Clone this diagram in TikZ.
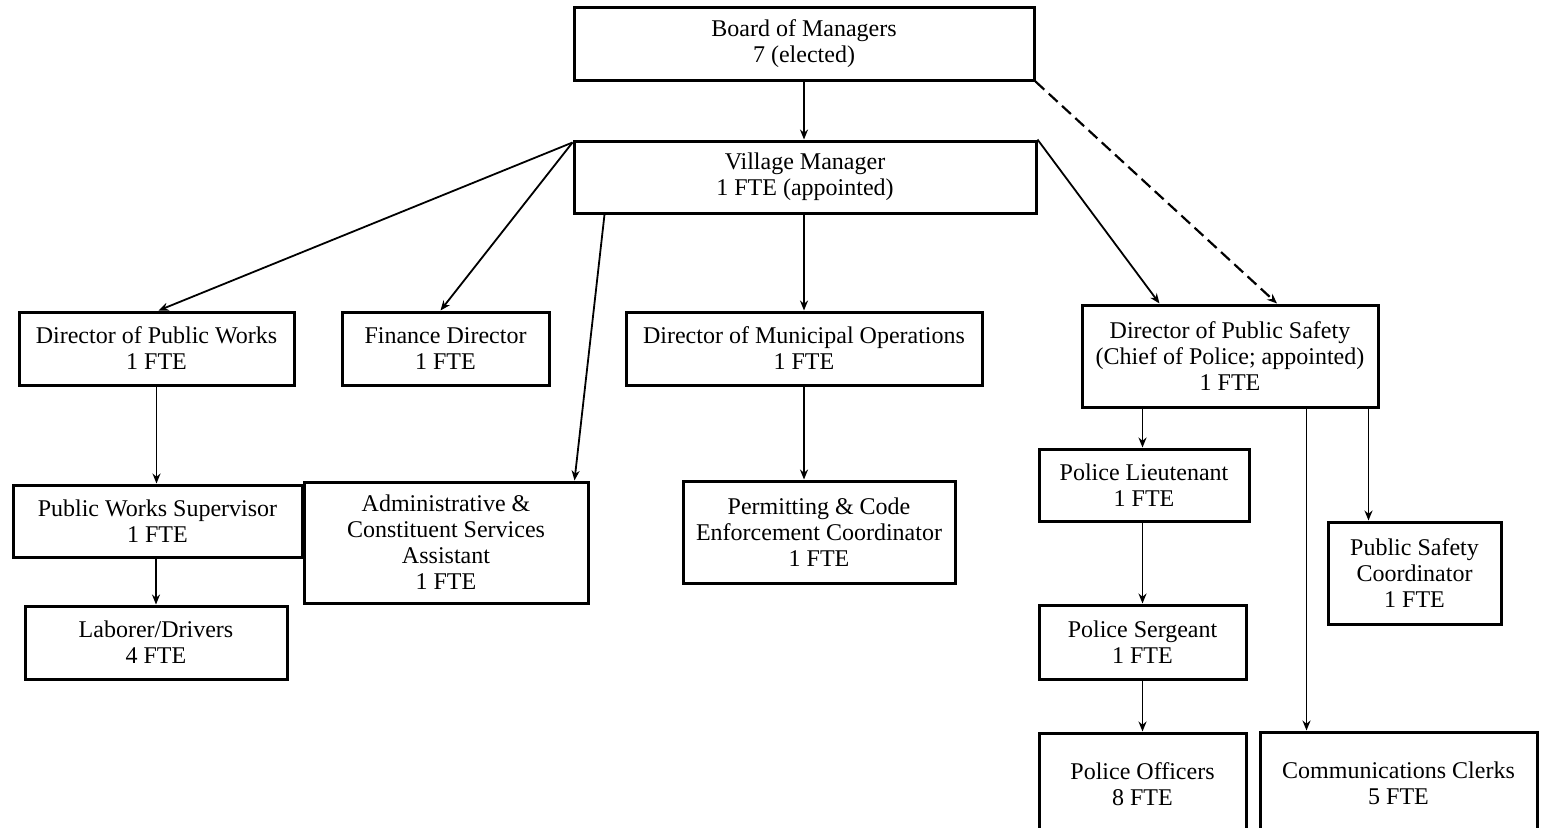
\documentclass[tikz,border=0pt]{standalone}
\usepackage{fontspec}
\setmainfont{Liberation Serif}
\usetikzlibrary{arrows.meta,shadows,calc}
\begin{document}
\begin{tikzpicture}[x=0.5pt,y=-0.5pt,
  box/.style={draw, line width=1.5pt, fill=white, align=center, inner sep=0pt,
    font=\fontsize{12}{13}\selectfont,
    drop shadow={shadow xshift=1.1pt, shadow yshift=-1.1pt, fill=black, opacity=1}},
  sz/.style 2 args={minimum width=#1*0.5pt, minimum height=#2*0.5pt},
  conn/.style={draw, line width=0.9pt, -{Stealth[length=5pt,width=4pt]}},
  dconn/.style={conn, dashed, dash pattern=on 6pt off 3pt, line width=1.1pt}]
\useasboundingbox (0,0) rectangle (1547,827);
\fill[white] (0,0) rectangle (1547,827);
\node[box, sz={460}{73}] (bom) at (804,43.5) {Board of Managers\\7 (elected)};
\node[box, sz={462}{72}] (vm) at (805,177) {Village Manager\\1 FTE (appointed)};
\node[box, sz={275}{73}] (dpw) at (156.5,348.5) {Director of Public Works\\1 FTE};
\node[box, sz={207}{73}] (fin) at (445.5,348.5) {Finance Director\\1 FTE};
\node[box, sz={356}{73}] (dmo) at (804,348.5) {Director of Municipal Operations\\1 FTE};
\node[box, sz={296}{102}] (dps) at (1230,356) {Director of Public Safety\\(Chief of Police; appointed)\\1 FTE};
\node[box, sz={289}{72}] (pws) at (157.5,521) {Public Works Supervisor\\1 FTE};
\node[box, sz={284}{121}] (adm) at (446,542.5) {Administrative \&\\Constituent Services\\Assistant\\1 FTE};
\node[box, sz={272}{102}] (pce) at (819,532) {Permitting \& Code\\Enforcement Coordinator\\1 FTE};
\node[box, sz={210}{72}] (lt) at (1144,485) {Police Lieutenant\\1 FTE};
\node[box, sz={173}{102}] (psc) at (1414.5,573) {Public Safety\\Coordinator\\1 FTE};
\node[box, sz={262}{73}] (lab) at (156,642.5) {Laborer/Drivers\\4 FTE};
\node[box, sz={207}{74}] (sgt) at (1142.5,642) {Police Sergeant\\1 FTE};
\node[box, sz={207}{102}] (off) at (1142.5,784) {Police Officers\\8 FTE};
\node[box, sz={277}{102}] (cc) at (1398.5,783) {Communications Clerks\\5 FTE};
% connectors
\draw[conn] (bom.south) -- (bom.south |- vm.north);
\draw[dconn] (bom.south east) -- ($(dps.north)+(47,0)$);
\draw[conn] ($(vm.north west)+(0,3)$) -- ($(dpw.north)+(2,0)$);
\draw[conn] ($(vm.north west)+(0,3)$) -- ($(fin.north)+(-5,0)$);
\draw[conn] ($(vm.south west)+(32,0)$) -- ($(adm.north east)+(-15,0)$);
\draw[conn] (vm.south -| dmo.north) -- (dmo.north);
\draw[conn] (vm.north east) -- ($(dps.north west)+(79,0)$);
\draw[conn] (dpw.south) -- (pws.north -| dpw.south);
\draw[conn] (pws.south -| lab.north) -- (lab.north);
\draw[conn] (dmo.south) -- (pce.north -| dmo.south);
\draw[conn] (dps.south -| sgt.north) -- (lt.north -| sgt.north);
\draw[conn] ($(dps.south west)+(226,0)$) -- ($(cc.north west)+(48,0)$);
\draw[conn] ($(dps.south west)+(288,0)$) -- ($(psc.north west)+(42,0)$);
\draw[conn] (lt.south -| sgt.north) -- (sgt.north);
\draw[conn] (sgt.south) -- (off.north);
\end{tikzpicture}
\end{document}
